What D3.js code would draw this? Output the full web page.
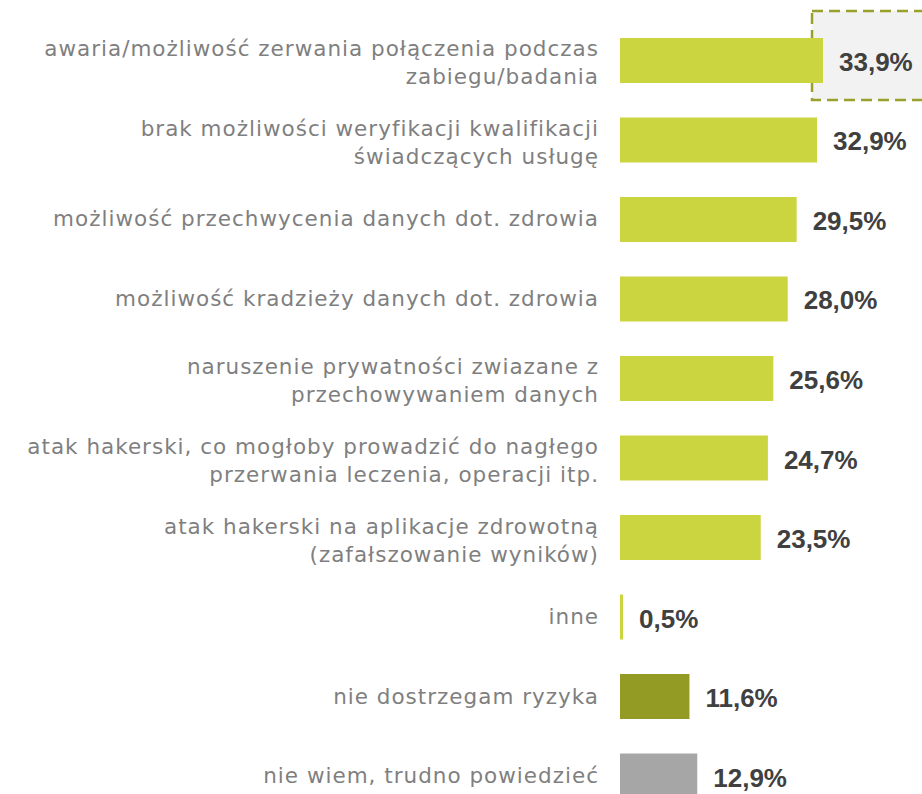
<!DOCTYPE html>
<html>
<head>
<meta charset="utf-8">
<script src="https://cdn.jsdelivr.net/npm/d3@7"></script>
<style>
  body { margin: 0; background: #fff; }
  svg { display: block; }
</style>
</head>
<body>
<script>
// categories (each row may wrap into two lines)
var categories = [
    ["awaria/możliwość zerwania połączenia podczas", "zabiegu/badania"],
    ["brak możliwości weryfikacji kwalifikacji", "świadczących usługę"],
    ["możliwość przechwycenia danych dot. zdrowia"],
    ["możliwość kradzieży danych dot. zdrowia"],
    ["naruszenie prywatności zwiazane z", "przechowywaniem danych"],
    ["atak hakerski, co mogłoby prowadzić do nagłego", "przerwania leczenia, operacji itp."],
    ["atak hakerski na aplikacje zdrowotną", "(zafałszowanie wyników)"],
    ["inne"],
    ["nie dostrzegam ryzyka"],
    ["nie wiem, trudno powiedzieć"]
];
var values = [33.9, 32.9, 29.5, 28.0, 25.6, 24.7, 23.5, 0.5, 11.6, 12.9];
var valueLabels = ["33,9%", "32,9%", "29,5%", "28,0%", "25,6%", "24,7%", "23,5%", "0,5%", "11,6%", "12,9%"];
var groups = ["risk", "risk", "risk", "risk", "risk", "risk", "risk", "risk", "none", "dontknow"];
var highlighted = 0;

var width = 922,
    height = 794;

var svg = d3.select("body")
        .append("svg")
        .attr("width", width)
        .attr("height", height);

var x = d3.scaleLinear().domain([0, 35]).range([620, 829.6]);
var y = d3.scaleBand()
        .domain(d3.range(values.length))
        .range([38, 798.5])
        .paddingInner(0.434)
        .paddingOuter(0)
        .align(0);

var color = d3.scaleOrdinal()
        .domain(["risk", "none", "dontknow"])
        .range(["#cbd540", "#949b24", "#a6a6a6"]);

// highlight box round the top value
svg.append("rect")
        .attr("x", x(values[highlighted]) - 11)
        .attr("y", y(highlighted) - 27)
        .attr("width", 130)
        .attr("height", 89)
        .attr("fill", "#f2f2f2")
        .attr("stroke", "#9aa12b")
        .attr("stroke-width", 2.5)
        .attr("stroke-dasharray", "11,6");

var rows = svg.selectAll(".row")
        .data(values)
        .enter().append("g")
        .classed("row", true);

rows.append("rect")
        .attr("x", x(0))
        .attr("y", function (d, i) {
            return y(i);
        })
        .attr("width", function (d) {
            return x(d) - x(0);
        })
        .attr("height", y.bandwidth())
        .attr("fill", function (d, i) {
            return color(groups[i]);
        });

rows.append("text")
        .attr("x", function (d) {
            return x(d) + 16;
        })
        .attr("y", function (d, i) {
            return y(i) + y.bandwidth() / 2 + 10.5;
        })
        .attr("font-family", "'Liberation Sans', Arial, sans-serif")
        .attr("font-weight", "bold")
        .attr("font-size", "26px")
        .attr("fill", "#404040")
        .text(function (d, i) {
            return valueLabels[i];
        });

var labels = rows.append("text")
        .attr("text-anchor", "end")
        .attr("font-family", "'DejaVu Sans', sans-serif")
        .attr("font-size", "21.5px")
        .attr("letter-spacing", "1px")
        .attr("fill", "#7f7f7f");

labels.each(function (d, i) {
    var lines = categories[i];
    var c = y(i) + y.bandwidth() / 2;
    var t = d3.select(this);
    lines.forEach(function (line, j) {
        t.append("tspan")
                .attr("x", 599)
                .attr("y", lines.length === 1 ? c + 7 : c - 4 + j * 28)
                .text(line);
    });
});
</script>
</body>
</html>
